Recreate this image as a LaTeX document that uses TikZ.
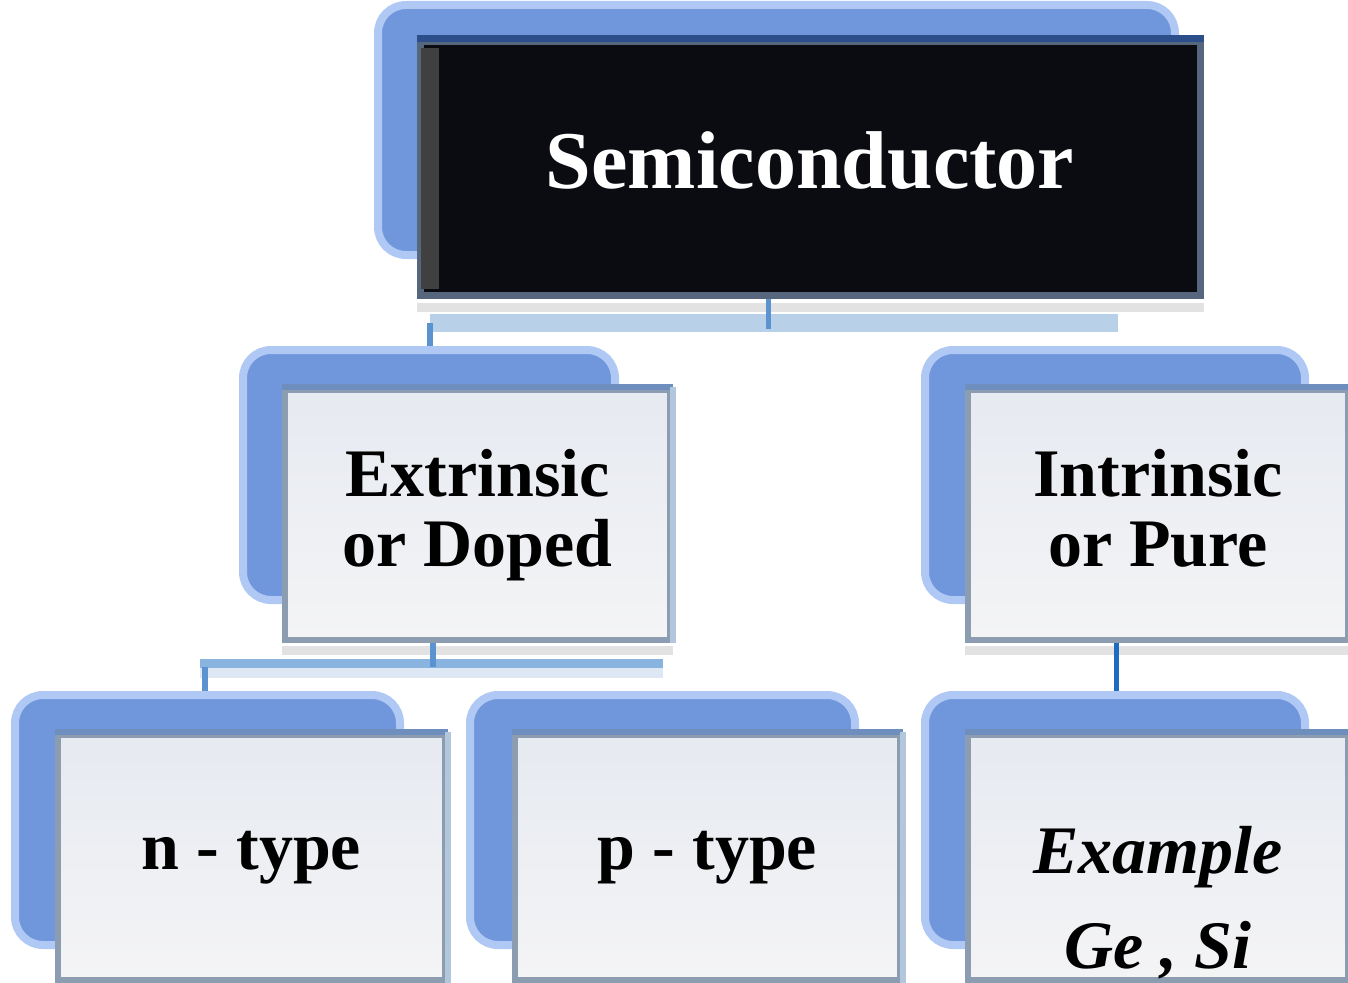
\documentclass[tikz,border=0pt]{standalone}
\usepackage{fontspec}
\setmainfont{Liberation Serif}

\definecolor{backblue}{HTML}{7096DC}
\definecolor{backglow}{HTML}{B0C8F4}
\definecolor{panelfill}{HTML}{ECEFF4}
\definecolor{paneltop}{HTML}{E6EAF1}
\definecolor{panelbot}{HTML}{F4F4F5}
\definecolor{paneledge}{HTML}{8C9DB2}
\definecolor{edgetopc}{HTML}{6E8FBD}
\definecolor{edgerightc}{HTML}{B2C6DC}
\definecolor{shadowc}{HTML}{E2E2E2}
\definecolor{barlight}{HTML}{B8D0E8}
\definecolor{barmid}{HTML}{8AB4E0}
\definecolor{barpale}{HTML}{DDE8F4}
\definecolor{stubc}{HTML}{5A93D0}
\definecolor{stubdark}{HTML}{1F6BBF}
\definecolor{inkbox}{HTML}{0A0C11}
\definecolor{inkedge}{HTML}{56677D}
\definecolor{inktop}{HTML}{2C4F8C}

% draws the grey drop strip and the tinted top/right rims of a front panel
\newcommand\paneltrim[1]{%
  \fill[shadowc] ([yshift=-3pt]#1.south west) rectangle ([yshift=-12pt]#1.south east);
  \draw[edgetopc, line width=6pt] (#1.north west) -- (#1.north east);
  \draw[edgerightc, line width=6pt] (#1.north east) -- (#1.south east);
}

\begin{document}
\begin{tikzpicture}[x=1pt, y=-1pt,
  backbox/.style={rounded corners=28pt, fill=backblue, draw=backglow, line width=8pt,
    inner sep=0pt},
  frontbox/.style={rectangle, top color=paneltop, bottom color=panelbot, draw=paneledge,
    line width=6pt, inner sep=0pt, align=center,
    font=\fontsize{68}{70}\selectfont\bfseries},
  rootbox/.style={rectangle, fill=inkbox, draw=inkedge, line width=7pt, inner sep=0pt,
    text=white, font=\fontsize{82}{90}\selectfont\bfseries, text depth=16pt},
  bar/.style={barlight, line width=18pt},
  stub/.style={stubc, line width=6pt},
  stubdeep/.style={stubdark, line width=5pt}
]
\useasboundingbox (0,0) rectangle (1348,982);
\clip (0,0) rectangle (1348,982);

% ---- connector rails ----
\coordinate (railL) at (430,323);
\coordinate (railR) at (1118,323);
\coordinate (railM) at (768,323);
\coordinate (lowL) at (200,667);
\coordinate (lowR) at (663,667);
\coordinate (lowM) at (433,667);

\draw[bar] (railL) -- (railR);
\draw[barpale, line width=11pt] ([yshift=-5pt]lowL) -- ([yshift=-5pt]lowR);
\draw[barmid, line width=9pt] ([yshift=4pt]lowL) -- ([yshift=4pt]lowR);

% ---- back plates ----
\node[backbox, minimum width=797pt, minimum height=250pt] (rootback) at (776.5,130) {};
\node[backbox, minimum width=372pt, minimum height=250pt] (extback) at (429,475) {};
\node[backbox, minimum width=380pt, minimum height=250pt] (intback) at (1115,475) {};
\node[backbox, minimum width=385pt, minimum height=250pt] (nback) at (207.5,820) {};
\node[backbox, minimum width=385pt, minimum height=250pt] (pback) at (662.5,820) {};
\node[backbox, minimum width=380pt, minimum height=250pt] (exback) at (1115,820) {};

% ---- stub from the rail down to the left plate ----
\draw[stub] (railL |- railM) -- (extback.north -| railL);

% ---- root panel ----
\node[rootbox, minimum width=780pt, minimum height=253pt] (root) at (810,168.5) {Semiconductor};
\fill[shadowc] ([yshift=-4pt]root.south west) rectangle ([yshift=-13pt]root.south east);
\draw[inktop, line width=7pt] (root.north west) -- (root.north east);
\fill[black!75] ([xshift=4pt,yshift=-10pt]root.north west) rectangle ([xshift=22pt,yshift=10pt]root.south west);
\draw[stubc, line width=5pt] (root.south -| railM) -- ([yshift=-6pt]railM);

% ---- second tier ----
\node[frontbox, minimum width=385pt, minimum height=250pt] (ext) at (477.5,515) {Extrinsic\\or Doped};
\paneltrim{ext}
\node[frontbox, minimum width=380pt, minimum height=250pt] (int) at (1158,515)
  {Intrinsic\\or Pure\rule[-15pt]{0pt}{1pt}};
\paneltrim{int}

% ---- connectors to third tier ----
\draw[stub] (ext.south -| lowM) -- (lowM);
\draw[stub] (lowL) ++(5,0) coordinate (lowstub) -- (nback.north -| lowstub);
\draw[stubdeep] (int.south -| 1116,0) -- (exback.north -| 1116,0);

% ---- third tier ----
\node[frontbox, minimum width=387pt, minimum height=245pt] (ntype) at (251.5,857.5) {n - type};
\paneltrim{ntype}
\node[frontbox, minimum width=385pt, minimum height=245pt] (ptype) at (707.5,857.5) {p - type};
\paneltrim{ptype}
\node[frontbox, minimum width=380pt, minimum height=245pt] (expanel) at (1158,857.5) {};
\paneltrim{expanel}
\node[align=center, font=\fontsize{68}{95}\selectfont\bfseries\itshape] (extext) at (1158,903)
  {Example\\Ge , Si};
\end{tikzpicture}
\end{document}
